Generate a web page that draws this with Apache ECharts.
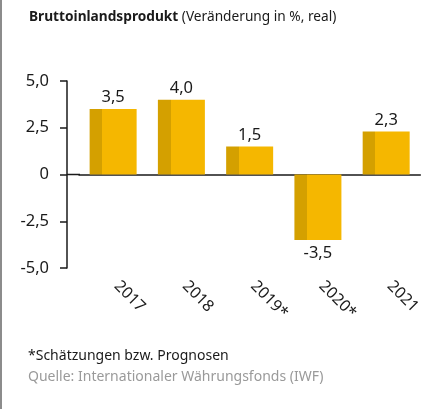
<!DOCTYPE html>
<html>
<head>
<meta charset="utf-8">
<script src="https://cdn.jsdelivr.net/npm/echarts@6/dist/echarts.min.js"></script>
<style>
  body { margin: 0; background: #fff; }
  #wrap { position: relative; width: 423px; height: 409px; }
  #bip { width: 423px; height: 409px; }
  .edge { position: absolute; left: 0; top: 0; width: 2px; height: 409px; background: #8c8c8c; }
</style>
</head>
<body>
<div id="wrap">
  <div id="bip"></div>
  <div class="edge"></div>
</div>
<script>
// Daten
const jahre = ['2017', '2018', '2019*', '2020*', '2021'];
const veraenderung = [3.5, 4.0, 1.5, -3.5, 2.3];
const yTicks = [-5, -2.5, 0, 2.5, 5];

const dunkel = '#d4a000';
const hell = '#f5b700';
const schrift = "'Noto Sans', sans-serif";

function komma(v) {
  if (v === 0) return '0';
  return v.toFixed(1).replace('.', ',');
}

let chart = echarts.init(document.getElementById('bip'));

let barData = veraenderung.map(function (v) {
  return {
    value: v,
    label: { position: v < 0 ? 'bottom' : 'top', distance: v < 0 ? 5 : 3 }
  };
});

let option = {
  animation: false,
  textStyle: { fontFamily: schrift },
  title: [
    {
      text: '{b|Bruttoinlandsprodukt} (Veränderung in %, real)',
      left: 29, top: 10, padding: 0,
      textStyle: {
        fontSize: 13.7, fontWeight: 'normal', color: '#1a1a1a', fontFamily: schrift,
        rich: { b: { fontSize: 13.7, fontWeight: 'bold', color: '#1a1a1a', fontFamily: schrift } }
      }
    },
    {
      text: '*Schätzungen bzw. Prognosen',
      left: 28, top: 349, padding: 0,
      textStyle: { fontSize: 14, fontWeight: 'normal', color: '#1a1a1a', fontFamily: schrift }
    },
    {
      text: 'Quelle: Internationaler Währungsfonds (IWF)',
      left: 28, top: 370, padding: 0,
      textStyle: { fontSize: 14, fontWeight: 'normal', color: '#9a9a9a', fontFamily: schrift }
    }
  ],
  grid: { left: 79, top: 81, width: 345, height: 187 },
  xAxis: [
    {
      type: 'category',
      data: jahre,
      position: 'bottom',
      axisLine: { show: false, onZero: false },
      axisTick: { show: false },
      axisLabel: {
        rotate: -45, margin: 12, fontSize: 16, color: '#1a1a1a', fontFamily: schrift,
        padding: [0, 0, 0, 5]
      }
    },
    {
      type: 'category',
      data: jahre,
      position: 'bottom',
      axisLine: { show: true, onZero: true, lineStyle: { color: '#1a1a1a', width: 1.5 } },
      axisTick: { show: false },
      axisLabel: { show: false }
    }
  ],
  yAxis: {
    type: 'value',
    min: -5, max: 5, interval: 2.5,
    offset: 12,
    axisLine: { show: true, lineStyle: { color: '#1a1a1a', width: 1.5 } },
    axisTick: { show: true, length: 7, lineStyle: { color: '#1a1a1a', width: 1.5 } },
    splitLine: { show: false },
    axisLabel: {
      margin: 18, fontSize: 16.5, color: '#1a1a1a', fontFamily: schrift,
      formatter: function (v) { return yTicks.indexOf(v) >= 0 ? komma(v) : ''; }
    }
  },
  series: [{
    name: 'BIP',
    type: 'bar',
    xAxisIndex: 0,
    barWidth: 47,
    data: barData,
    itemStyle: {
      color: {
        type: 'linear', x: 0, y: 0, x2: 1, y2: 0,
        colorStops: [
          { offset: 0, color: dunkel },
          { offset: 0.27, color: dunkel },
          { offset: 0.27, color: hell },
          { offset: 1, color: hell }
        ]
      }
    },
    label: {
      show: true, fontSize: 16.5, color: '#1a1a1a', fontFamily: schrift,
      formatter: function (p) { return komma(p.value); }
    }
  }]
};

chart.setOption(option);

// Nulllinie bis an die y-Achse verlängern
let y0 = chart.convertToPixel({ yAxisIndex: 0 }, 0);
chart.setOption({
  graphic: [{
    type: 'line',
    shape: { x1: 67, y1: y0, x2: 80, y2: y0 },
    style: { stroke: '#1a1a1a', lineWidth: 1.5 }
  }]
});
</script>
</body>
</html>
